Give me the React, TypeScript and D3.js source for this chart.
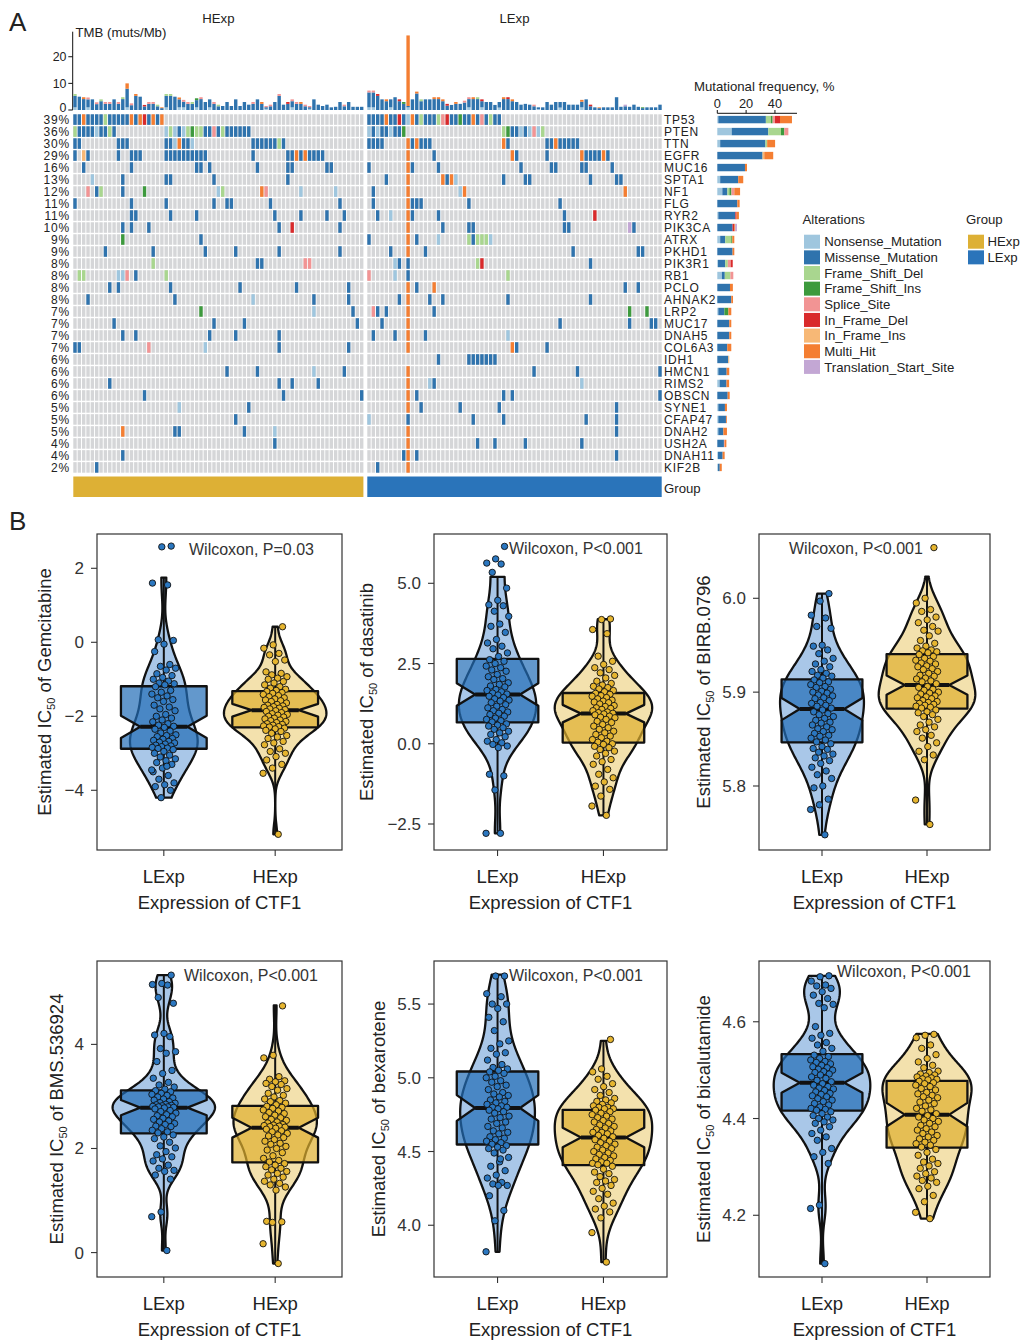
import React from 'react';
import * as d3 from 'd3';

const FONT = "'Liberation Sans', Arial, Helvetica, sans-serif";
const INK = '#222';

// ---------------- oncoplot data ----------------
const genes = ['TP53', 'PTEN', 'TTN', 'EGFR', 'MUC16', 'SPTA1', 'NF1', 'FLG', 'RYR2', 'PIK3CA', 'ATRX', 'PKHD1', 'PIK3R1', 'RB1', 'PCLO',
  'AHNAK2', 'LRP2', 'MUC17', 'DNAH5', 'COL6A3', 'IDH1', 'HMCN1', 'RIMS2', 'OBSCN', 'SYNE1', 'CFAP47', 'DNAH2', 'USH2A', 'DNAH11', 'KIF2B'];
const genePct = [39, 36, 30, 29, 16, 13, 12, 11, 11, 10, 9, 9, 8, 8, 8, 8, 7, 7, 7, 7, 6, 6, 6, 6, 5, 5, 5, 4, 4, 2];

// "start:codes" runs of mutated samples per gene row
// N nonsense, M missense, D fs del, I fs ins, S splice, F inframe del, P inframe ins, H multi hit, T translation start
const hexpRows = [
  '0:MMHMMMMDMMMMMHMHFMHMH',
  '0:DMMMMNMMDM 21:NDNMNDIDDMMSMDMMMMMM',
  '0:MM 10:MMM 21:MMNHMMN 41:MMMMMMDM',
  '0:M 2:PM 10:M 13:MMM 21:MMMMMMMMMM 41:M 49:MMHMHMMMM',
  '2:M 13:M 28:MM 31:M 42:M 49:MM 58:MM',
  '4:N 11:M 21:MM 32:M 49:M',
  '3:S 5:MD 11:M 16:I 33:ND 43:HS 52:N 60:N',
  '0:M 13:M 21:M 32:M 35:MM 45:M 61:M',
  '13:MM 22:M 28:M 46:M 52:M 58:M 62:M',
  '11:M 13:M 17:M 47:M 50:F 61:M',
  '11:I 29:M',
  '7:M 18:M 30:M 37:M 47:M 61:M',
  '18:D 42:MM 53:SS',
  '1:DD 10:NNS 14:M 21:D',
  '8:M 10:M 22:M 38:M 51:M 63:M',
  '3:M 23:M 41:N 55:M 63:M',
  '29:I 55:N 64:M',
  '9:M 32:M 39:M 65:M',
  '11:M 14:M 31:M 37:M 47:M',
  '0:MM 17:S 30:N 47:M 63:M',
  '',
  '35:M 42:M 55:N 62:M',
  '8:M 47:M 50:M 56:M',
  '16:M 48:M 66:M',
  '24:N 40:M',
  '37:M',
  '11:H 23:MM 39:M 46:N',
  '46:M',
  '11:M',
  '5:M',
];
const lexpRows = [
  '0:MMMMHMMFMNHMDMMMDSFMMIMMHMSMDMM',
  '0:NMNMMNMMI 31:DIMMNMNSND',
  '0:MMMM 9:HMHMMM 31:HM 41:MMHMMMMM',
  '9:H 15:M 33:HM 41:M 49:HMMMMHM',
  '0:M 9:HM 16:M 35:M 42:MM 49:MM 56:M',
  '4:M 9:H 17:HMHN 31:M 36:MM 51:M 57:MM',
  '1:M 9:H 21:NH 59:H',
  '1:M 9:HMMM 23:M 44:M',
  '2:M 5:N 9:HM 16:M 45:M 52:F',
  '9:H 17:M 23:MM 45:MM 60:TM',
  '0:M 9:H 11:M 16:N 23:DMDDDN',
  '5:M 9:H 13:M 47:M 62:MM',
  '6:NM 9:M 25:DF 51:M',
  '0:S 6:N 9:M 32:D',
  '9:H 11:M 15:H 59:M 62:M',
  '7:M 9:H 14:M 17:M 32:M 51:M',
  '1:SM 4:M 9:H 15:M 60:I 64:I',
  '3:M 9:H 44:M 60:M 65:MM',
  '1:M 6:M 9:H 13:M 32:N',
  '9:H 33:HM 41:M',
  '16:M 23:MMMMMMM',
  '9:H 38:M 48:M 67:M',
  '9:H 14:NM 49:N',
  '9:H 11:M 31:M 33:M 67:M',
  '9:H 12:M 21:M 30:M 57:M',
  '0:N 9:M 24:M 31:M 50:M 57:M',
  '9:H 57:M',
  '9:H 25:M 29:M 36:M 49:M',
  '8:MH 11:M 57:M',
  '2:M 9:H',
];

// TMB per sample (muts/Mb)
const tmbHExp = [6, 5, 4.8, 4.7, 4, 2.9, 4, 3, 3, 4, 3, 4.8, 10, 2.5, 6, 5, 1.9, 3, 3, 2, 1, 6, 6, 5, 4.7, 3.8, 3, 3, 4.4, 4.8,
  3, 4, 3, 2, 1.5, 3, 1.5, 4, 1.5, 3, 2, 3, 4, 3, 1.5, 2, 3, 6, 2, 3, 4, 3, 3, 2, 1.5, 4, 2, 1.5, 2, 1, 1.2, 3, 2, 3, 1.2, 1.2, 1.2];
const tmbLExp = [7.3, 7.3, 6, 4, 4, 4, 4.8, 4, 3, 28, 4, 6.9, 4, 4, 4, 4.8, 4.8, 4, 2.3, 1.9, 3, 2.3, 3.5, 4.8, 4.8, 4.8, 4, 3, 3, 1.9,
  3, 4.8, 4.8, 4, 3, 2, 2.3, 2, 2, 1, 1, 3, 2, 3, 3, 3, 2, 2, 2, 3.8, 4, 2, 1, 1, 1, 1, 1, 4.8, 1.2, 2, 1.2, 2, 1.2, 1, 1, 1, 1, 2];
const tmbTopHExp = 'D.HS.SDSS.SDHSH.FSSDHDD.HSSDIS..SD.......S.HSS.S.FSSHSS.......S....';
const tmbTopLExp = 'SSF.H..FI..HD..HHHF.H.SSHDF....HFH....S..........H.F.H.....T...I....';
const tmbBaseHExp = 'n..n........n........n..nn..n..n............n.....n...n...........';
const tmbBaseLExp = 'nn...n...n.............n..n...n........n....n....n..................';
const tmbBigCapHExp = [{ col: 12, value: 2 }];
const tmbBigCapLExp = [{ col: 9, value: 26.5 }];

// mutational frequency bars (%)
const freqSegs = [
  'N0.7 M33 D3.5 I1.2 S1.6 F3.5 H8.3', 'N10 M25.4 D8.8 I2.3 S2.8', 'N2 M31.4 D1.2 H5.5', 'M31.4 P1.2 H6.2', 'M19.2 H1.4',
  'N2 M12.5 H3.5', 'N3.5 M3.5 D1.4 I1.4 S2 H4', 'M13.9 H1.6', 'N0.7 M11.8 F0.9 H1.6', 'M10.6 F1.2 H0.6 T1.2',
  'N2 M3.5 D4.2 I0.7 H1.4', 'M10.6 H1.2', 'N0.5 M5 D1.8 S2 F1.4', 'N3.2 M2 D3.9 S2', 'M8.8 H2',
  'M9.7 H1.2', 'N0.7 M4.2 I2.8 H2', 'M8.3 H1.4', 'M8.3 H1.4', 'M6.9 H2.8',
  'M7.6 P0.7', 'N0.7 M5.8 H1.8', 'N1.6 M4.8 H1.8', 'M7.2 H1.4', 'N0.7 M4.6 H1.4',
  'N0.7 M5.3 H0.6', 'N0.7 M3.5 H2.5', 'M4.6 S0.5 H1.2', 'N0.5 M3.2 H1.4', 'N0.5 M1.2 H1.4',
];
const freqTicks = [0, 20, 40];
const tmbTicks = [0, 10, 20];

const altCodes = ['N', 'M', 'D', 'I', 'S', 'F', 'P', 'H', 'T'];
const altNames = ['Nonsense_Mutation', 'Missense_Mutation', 'Frame_Shift_Del', 'Frame_Shift_Ins', 'Splice_Site',
  'In_Frame_Del', 'In_Frame_Ins', 'Multi_Hit', 'Translation_Start_Site'];
const ALT: Record<string, string> = {
  N: '#9fc6de', M: '#2f73ad', D: '#a9d68f', I: '#3d9a3d', S: '#f29494', F: '#d92a2b', P: '#f7b876', H: '#f47e32', T: '#c3a7d4',
};

// ---------------- violin data (estimated IC50) ----------------
const groupNames = ['LExp', 'HExp'];
const drugs = ['Gemcitabine', 'dasatinib', 'BIRB.0796', 'BMS.536924', 'bexarotene', 'bicalutamide'];
const pLabels = ['Wilcoxon, P=0.03', 'Wilcoxon, P<0.001', 'Wilcoxon, P<0.001', 'Wilcoxon, P<0.001', 'Wilcoxon, P<0.001', 'Wilcoxon, P<0.001'];
const yDomains = [[-5.614, 2.927], [-3.31, 6.536], [5.7318, 6.0685], [-0.469, 5.602], [3.649, 5.792], [4.0724, 4.7256]];
const yTicks = [[-4, -2, 0, 2], [-2.5, 0, 2.5, 5], [5.8, 5.9, 6.0], [0, 2, 4], [4.0, 4.5, 5.0, 5.5], [4.2, 4.4, 4.6]];
const tickDecimals = [0, 1, 1, 0, 1, 1];

const lexpIC50 = [
  [2.6, 2.58, 1.6, 1.55, 0.07, 0.05, -0.05, -0.25, -0.6, -0.65, -0.7, -0.75, -0.85, -0.9, -0.95, -1.0, -1.05, -1.1, -1.12, -1.15,
    -1.2, -1.3, -1.35, -1.4, -1.45, -1.5, -1.55, -1.6, -1.7, -1.75, -1.8, -1.85, -1.95, -2.0, -2.05, -2.1, -2.15, -2.2, -2.24, -2.27,
    -2.3, -2.35, -2.4, -2.45, -2.5, -2.52, -2.55, -2.6, -2.62, -2.65, -2.68, -2.7, -2.72, -2.75, -2.78, -2.8, -2.82, -2.84, -2.86, -2.87,
    -2.9, -2.95, -3.0, -3.05, -3.1, -3.15, -3.2, -3.25, -3.3, -3.4, -3.5, -3.6, -3.7, -3.8, -3.85, -3.9, -4.0, -4.2, -3.45, -3.35],
  [6.15, 5.76, 5.63, 5.6, 5.34, 4.85, 4.47, 4.33, 4.3, 4.13, 3.97, 3.73, 3.66, 3.47, 3.25, 3.14, 3.04, 2.96, 2.83, 2.72,
    2.62, 2.57, 2.5, 2.42, 2.37, 2.3, 2.26, 2.16, 2.09, 2.03, 2.0, 1.9, 1.85, 1.8, 1.77, 1.69, 1.66, 1.62, 1.58, 1.55,
    1.52, 1.48, 1.44, 1.4, 1.36, 1.33, 1.28, 1.22, 1.17, 1.12, 1.07, 1.03, 0.99, 0.95, 0.91, 0.86, 0.8, 0.76, 0.72, 0.68,
    0.62, 0.58, 0.55, 0.5, 0.45, 0.39, 0.34, 0.29, 0.22, 0.13, 0.08, 0.03, -0.02, -0.07, -0.12, -0.95, -1.0, -1.44, -2.79, -2.79],
  [6.005, 5.997, 5.982, 5.979, 5.97, 5.968, 5.95, 5.949, 5.945, 5.941, 5.936, 5.933, 5.93, 5.927, 5.924, 5.922, 5.92, 5.918, 5.917, 5.915,
    5.913, 5.911, 5.91, 5.908, 5.906, 5.905, 5.903, 5.901, 5.9, 5.899, 5.897, 5.896, 5.894, 5.893, 5.891, 5.889, 5.888, 5.886, 5.885, 5.883,
    5.881, 5.879, 5.877, 5.876, 5.874, 5.872, 5.87, 5.868, 5.867, 5.865, 5.863, 5.861, 5.86, 5.858, 5.856, 5.854, 5.853, 5.851, 5.849, 5.847,
    5.845, 5.842, 5.84, 5.839, 5.836, 5.834, 5.832, 5.83, 5.827, 5.824, 5.82, 5.816, 5.812, 5.808, 5.8, 5.798, 5.786, 5.78, 5.775, 5.748],
  [5.33, 5.17, 5.15, 5.14, 4.9, 4.79, 4.21, 4.18, 4.15, 3.92, 3.86, 3.83, 3.67, 3.5, 3.44, 3.35, 3.27, 3.22, 3.18, 3.14,
    3.11, 3.09, 3.06, 3.04, 3.02, 2.99, 2.97, 2.95, 2.93, 2.9, 2.88, 2.87, 2.85, 2.84, 2.83, 2.82, 2.81, 2.8, 2.8, 2.79,
    2.78, 2.76, 2.73, 2.71, 2.68, 2.65, 2.63, 2.61, 2.58, 2.56, 2.53, 2.51, 2.48, 2.46, 2.43, 2.42, 2.38, 2.35, 2.32, 2.3,
    2.26, 2.22, 2.19, 2.12, 2.05, 2.01, 1.94, 1.88, 1.84, 1.8, 1.76, 1.68, 1.62, 1.58, 1.56, 1.49, 1.41, 0.78, 0.69, 0.04],
  [5.69, 5.69, 5.57, 5.55, 5.5, 5.5, 5.47, 5.41, 5.38, 5.32, 5.25, 5.23, 5.2, 5.17, 5.16, 5.12, 5.09, 5.07, 5.06, 5.05,
    5.04, 5.03, 5.01, 5.0, 4.98, 4.97, 4.95, 4.94, 4.92, 4.9, 4.89, 4.88, 4.87, 4.85, 4.84, 4.83, 4.82, 4.81, 4.8, 4.8,
    4.79, 4.78, 4.77, 4.76, 4.74, 4.73, 4.72, 4.7, 4.69, 4.67, 4.66, 4.64, 4.63, 4.62, 4.6, 4.59, 4.58, 4.57, 4.56, 4.55,
    4.54, 4.53, 4.52, 4.51, 4.49, 4.46, 4.43, 4.4, 4.37, 4.34, 4.32, 4.29, 4.28, 4.27, 4.27, 4.2, 4.1, 4.03, 3.82, 4.45],
  [4.695, 4.693, 4.684, 4.676, 4.674, 4.669, 4.662, 4.655, 4.648, 4.638, 4.636, 4.629, 4.59, 4.576, 4.572, 4.566, 4.557, 4.552, 4.545, 4.539,
    4.531, 4.528, 4.524, 4.521, 4.518, 4.516, 4.513, 4.51, 4.507, 4.505, 4.502, 4.5, 4.497, 4.495, 4.492, 4.49, 4.486, 4.483, 4.479, 4.476,
    4.472, 4.469, 4.466, 4.463, 4.461, 4.458, 4.455, 4.452, 4.45, 4.447, 4.445, 4.441, 4.438, 4.435, 4.431, 4.428, 4.424, 4.421, 4.419, 4.417,
    4.414, 4.41, 4.406, 4.403, 4.4, 4.397, 4.393, 4.39, 4.383, 4.376, 4.369, 4.362, 4.355, 4.338, 4.33, 4.321, 4.307, 4.221, 4.214, 4.1],
];
const hexpIC50 = [
  [0.42, -0.07, -0.16, -0.3, -0.34, -0.48, -0.52, -0.8, -0.84, -0.88, -0.93, -0.97, -1.0, -1.06, -1.1, -1.15, -1.2, -1.24, -1.27, -1.3,
    -1.33, -1.36, -1.38, -1.41, -1.44, -1.47, -1.5, -1.53, -1.56, -1.58, -1.6, -1.64, -1.68, -1.7, -1.72, -1.74, -1.76, -1.78, -1.8, -1.82,
    -1.85, -1.87, -1.9, -1.93, -1.95, -1.97, -2.0, -2.02, -2.05, -2.07, -2.1, -2.12, -2.14, -2.17, -2.2, -2.22, -2.24, -2.26, -2.28, -2.29,
    -2.32, -2.34, -2.38, -2.41, -2.46, -2.52, -2.56, -2.6, -2.68, -2.72, -2.77, -2.88, -2.95, -3.0, -3.09, -3.18, -3.3, -3.4, -3.54, -5.19],
  [3.89, 3.87, 3.56, 3.43, 2.73, 2.57, 2.47, 2.37, 2.31, 2.21, 2.13, 2.05, 1.95, 1.88, 1.83, 1.79, 1.75, 1.71, 1.66, 1.62,
    1.57, 1.54, 1.5, 1.48, 1.44, 1.4, 1.36, 1.33, 1.3, 1.28, 1.24, 1.19, 1.16, 1.12, 1.1, 1.07, 1.03, 0.99, 0.97, 0.95,
    0.93, 0.9, 0.86, 0.83, 0.81, 0.76, 0.7, 0.66, 0.6, 0.55, 0.5, 0.45, 0.39, 0.34, 0.29, 0.24, 0.19, 0.13, 0.08, 0.05,
    0.0, -0.02, -0.08, -0.12, -0.18, -0.23, -0.3, -0.38, -0.49, -0.56, -0.64, -0.8, -0.95, -1.06, -1.19, -1.32, -1.42, -1.63, -1.94, -2.23],
  [6.054, 6.0, 5.995, 5.988, 5.986, 5.98, 5.977, 5.974, 5.97, 5.966, 5.965, 5.96, 5.955, 5.952, 5.949, 5.947, 5.945, 5.944, 5.943, 5.942,
    5.94, 5.938, 5.936, 5.934, 5.933, 5.931, 5.93, 5.928, 5.927, 5.925, 5.924, 5.922, 5.92, 5.918, 5.917, 5.915, 5.914, 5.912, 5.911, 5.909,
    5.906, 5.905, 5.903, 5.902, 5.9, 5.899, 5.898, 5.896, 5.895, 5.894, 5.893, 5.891, 5.89, 5.889, 5.888, 5.887, 5.886, 5.885, 5.884, 5.883,
    5.881, 5.879, 5.878, 5.876, 5.874, 5.871, 5.868, 5.865, 5.863, 5.86, 5.858, 5.854, 5.851, 5.846, 5.842, 5.837, 5.833, 5.828, 5.785, 5.759],
  [4.74, 3.79, 3.74, 3.38, 3.33, 3.3, 3.28, 3.25, 3.23, 3.19, 3.15, 3.12, 3.06, 3.02, 2.99, 2.95, 2.92, 2.9, 2.87, 2.84,
    2.81, 2.79, 2.77, 2.74, 2.72, 2.69, 2.67, 2.64, 2.61, 2.59, 2.56, 2.54, 2.51, 2.49, 2.46, 2.45, 2.44, 2.43, 2.42, 2.41,
    2.39, 2.37, 2.34, 2.32, 2.29, 2.26, 2.24, 2.21, 2.17, 2.14, 2.1, 2.08, 2.04, 2.0, 1.97, 1.92, 1.86, 1.81, 1.77, 1.74,
    1.71, 1.68, 1.65, 1.62, 1.59, 1.56, 1.52, 1.49, 1.45, 1.41, 1.37, 1.33, 1.3, 1.26, 1.2, 0.6, 0.59, 0.58, 0.17, -0.21],
  [5.26, 5.06, 5.04, 5.01, 4.99, 4.96, 4.94, 4.92, 4.9, 4.88, 4.86, 4.85, 4.84, 4.83, 4.82, 4.81, 4.8, 4.8, 4.79, 4.79,
    4.78, 4.77, 4.76, 4.75, 4.74, 4.73, 4.72, 4.71, 4.7, 4.69, 4.68, 4.67, 4.66, 4.65, 4.64, 4.63, 4.63, 4.62, 4.61, 4.6,
    4.59, 4.58, 4.57, 4.56, 4.55, 4.54, 4.53, 4.52, 4.51, 4.5, 4.49, 4.48, 4.47, 4.46, 4.45, 4.44, 4.43, 4.42, 4.42, 4.41,
    4.4, 4.38, 4.36, 4.35, 4.33, 4.31, 4.3, 4.29, 4.27, 4.25, 4.23, 4.21, 4.18, 4.15, 4.13, 4.11, 4.09, 4.05, 3.95, 3.75],
  [4.574, 4.572, 4.567, 4.552, 4.545, 4.532, 4.524, 4.517, 4.51, 4.505, 4.498, 4.495, 4.492, 4.49, 4.488, 4.486, 4.484, 4.482, 4.481, 4.48,
    4.477, 4.474, 4.472, 4.469, 4.466, 4.462, 4.459, 4.454, 4.451, 4.448, 4.445, 4.443, 4.438, 4.434, 4.431, 4.426, 4.421, 4.418, 4.415, 4.41,
    4.406, 4.403, 4.4, 4.397, 4.394, 4.39, 4.386, 4.383, 4.379, 4.376, 4.372, 4.369, 4.365, 4.362, 4.358, 4.355, 4.351, 4.348, 4.345, 4.341,
    4.336, 4.33, 4.324, 4.316, 4.31, 4.307, 4.302, 4.297, 4.29, 4.286, 4.281, 4.277, 4.272, 4.268, 4.26, 4.255, 4.241, 4.228, 4.206, 4.193],
];
// extent of each violin (trimmed)
const lexpRange = [[-4.2, 1.75], [-2.79, 5.2], [5.748, 6.005], [0.04, 5.33], [3.82, 5.7], [4.1, 4.695]];
const hexpRange = [[-5.19, 0.42], [-2.23, 3.88], [5.759, 6.023], [-0.21, 4.75], [3.75, 5.25], [4.193, 4.575]];

// ---------------- layout ----------------
const panelRects = [
  { x0: 97, x1: 342, y0: 534, y1: 850 }, { x0: 434, x1: 667, y0: 534, y1: 850 }, { x0: 759, x1: 990, y0: 534, y1: 850 },
  { x0: 97, x1: 342, y0: 961, y1: 1277 }, { x0: 434, x1: 667, y0: 961, y1: 1277 }, { x0: 759, x1: 990, y0: 961, y1: 1277 },
];
const pLabelPos = [[92, 20.5], [75, 19.5], [30, 19.5], [87, 20], [75, 20], [78, 16]];
const ONC_FS = 13.2;
const ROW_FS = 12;

const parseRow = (s: string) =>
  s.split(' ').filter(Boolean).flatMap((seg) => {
    const [start, codes] = seg.split(':');
    return codes.split('').map((c, k) => ({ col: +start + k, code: c }));
  });

const parseSegs = (s: string) => {
  let acc = 0;
  return s.split(' ').map((t) => {
    const v = +t.slice(1);
    const seg = { code: t[0], a: acc, b: acc + v };
    acc += v;
    return seg;
  });
};

function tmbStack(total: number, top: string, base: string, big?: number) {
  const b = base === 'n' ? Math.min(1, total * 0.3) : 0;
  const cap = big != null ? big : top !== '.' ? Math.min(0.7, total * 0.3) : 0;
  const m = Math.max(0, total - b - cap);
  const segs = [] as { code: string; a: number; b: number }[];
  if (b) segs.push({ code: 'N', a: 0, b });
  segs.push({ code: 'M', a: b, b: b + m });
  if (cap) segs.push({ code: top === '.' ? 'H' : top, a: b + m, b: total });
  return segs;
}

function Oncoplot() {
  const yRow = d3.scaleBand<string>().domain(genes).range([114.3, 472.7]).paddingInner(0.12);
  const yTmb = d3.scaleLinear().domain([0, 29.4]).range([110, 31.7]);
  const xFreq = d3.scaleLinear().domain([0, 55.3]).range([717.3, 797]);
  const groups = [
    { name: 'HExp', rows: hexpRows, tmb: tmbHExp, top: tmbTopHExp, base: tmbBaseHExp, big: tmbBigCapHExp, x0: 73.3, x1: 363.4, color: '#DDB035' },
    { name: 'LExp', rows: lexpRows, tmb: tmbLExp, top: tmbTopLExp, base: tmbBaseLExp, big: tmbBigCapLExp, x0: 367.3, x1: 661.7, color: '#2A74BA' },
  ];
  const bh = yRow.bandwidth();

  return (
    <g fontFamily={FONT} fill={INK}>
      <text x={9} y={31} fontSize={26}>A</text>
      {/* TMB axis */}
      <line x1={72.7} x2={72.7} y1={yTmb(29.4)} y2={yTmb(0)} stroke="#111" strokeWidth={1} />
      {tmbTicks.map((t) => (
        <g key={t}>
          <line x1={68.3} x2={72.7} y1={yTmb(t)} y2={yTmb(t)} stroke="#111" />
          <text x={66.5} y={yTmb(t) + (t === 0 ? 2 : 4.5)} fontSize={12.4} textAnchor="end">{t}</text>
        </g>
      ))}
      <text x={75.5} y={36.5} fontSize={ONC_FS}>TMB (muts/Mb)</text>

      {groups.map((g) => {
        const n = g.tmb.length;
        const xc = d3.scaleBand<number>().domain(d3.range(n)).range([g.x0, g.x1]).paddingInner(0.22);
        const bw = xc.bandwidth();
        const bigMap = new Map(g.big.map((d) => [d.col, d.value]));
        return (
          <g key={g.name}>
            <text x={(g.x0 + g.x1) / 2} y={22.5} fontSize={ONC_FS} textAnchor="middle">{g.name}</text>
            {g.tmb.map((t, i) =>
              tmbStack(t, g.top[i], g.base[i], bigMap.get(i)).map((s, j) => (
                <rect key={`t${i}-${j}`} x={xc(i)} width={bw} y={yTmb(s.b)} height={yTmb(s.a) - yTmb(s.b)} fill={ALT[s.code]} />
              ))
            )}
            {genes.map((gene) =>
              d3.range(n).map((i) => (
                <rect key={`${gene}-${i}`} x={xc(i)} y={yRow(gene)} width={bw} height={bh} fill="#d5d6d8" />
              ))
            )}
            {g.rows.map((row, r) =>
              parseRow(row).map((c) => (
                <rect key={`m${r}-${c.col}`} x={xc(c.col)} y={yRow(genes[r])} width={bw} height={bh} fill={ALT[c.code]} />
              ))
            )}
            <rect x={g.x0} y={476.5} width={g.x1 - g.x0} height={20.5} fill={g.color} />
          </g>
        );
      })}

      {genes.map((gene, r) => (
        <g key={gene}>
          <text x={70} y={yRow(gene)! + bh / 2 + 4.3} fontSize={ROW_FS} letterSpacing={0.8} textAnchor="end">{genePct[r]}%</text>
          <text x={664} y={yRow(gene)! + bh / 2 + 4.3} fontSize={ROW_FS} letterSpacing={0.7}>{gene}</text>
          {parseSegs(freqSegs[r]).map((s, j) => (
            <rect key={j} x={xFreq(s.a)} width={xFreq(s.b) - xFreq(s.a)} y={yRow(gene)! + bh / 2 - 3.7} height={7.4} fill={ALT[s.code]} />
          ))}
        </g>
      ))}
      <text x={664} y={492.5} fontSize={ONC_FS}>Group</text>

      {/* frequency axis */}
      <text x={694} y={91} fontSize={ONC_FS}>Mutational frequency, %</text>
      <line x1={xFreq(0)} x2={797} y1={113.3} y2={113.3} stroke="#111" />
      {freqTicks.map((t) => (
        <g key={t}>
          <line x1={xFreq(t)} x2={xFreq(t)} y1={110} y2={113.3} stroke="#111" />
          <text x={xFreq(t)} y={107.8} fontSize={12.8} textAnchor="middle">{t}</text>
        </g>
      ))}

      {/* legends */}
      <text x={802.5} y={224} fontSize={ONC_FS}>Alterations</text>
      {altCodes.map((c, k) => (
        <g key={c}>
          <rect x={804} y={234.7 + k * 15.65} width={16} height={14} fill={ALT[c]} />
          <text x={824.3} y={246.4 + k * 15.65} fontSize={ONC_FS}>{altNames[k]}</text>
        </g>
      ))}
      <text x={966} y={224} fontSize={ONC_FS}>Group</text>
      {groups.map((g, k) => (
        <g key={g.name}>
          <rect x={968} y={234.7 + k * 15.65} width={16} height={14} fill={g.color} />
          <text x={987.5} y={246.4 + k * 15.65} fontSize={ONC_FS}>{g.name}</text>
        </g>
      ))}
    </g>
  );
}

const TICK_FS = 17;
const LAB_FS = 18.5;
const charW = (s: string, fs: number) =>
  s.split('').reduce((w, ch) => w + (ch === '.' ? 0.278 : ch === '−' ? 0.7 : 0.556), 0) * fs;

function ViolinPanel({ k }: { k: number }) {
  const r = panelRects[k];
  const x = d3.scalePoint<string>().domain(groupNames).range([r.x0, r.x1]).padding(0.6);
  const unit = x.step();
  const y = d3.scaleLinear().domain(yDomains[k]).range([r.y1, r.y0]);
  const sets = [
    { name: 'LExp', vals: lexpIC50[k], range: lexpRange[k], fill: '#a9c7e8', box: '#216cb6', pt: '#2b77c0' },
    { name: 'HExp', vals: hexpIC50[k], range: hexpRange[k], fill: '#f3e1ad', box: '#deaf2e', pt: '#e6b52f' },
  ];
  const stats = sets.map((s) => {
    const sorted = [...s.vals].sort(d3.ascending);
    const n = sorted.length;
    const q1 = d3.quantile(sorted, 0.25)!;
    const med = d3.quantile(sorted, 0.5)!;
    const q3 = d3.quantile(sorted, 0.75)!;
    const sd = d3.deviation(sorted)!;
    const bw = 0.9 * Math.min(sd, (q3 - q1) / 1.34) * Math.pow(n, -0.2);
    const [lo, hi] = s.range;
    const dens = d3.range(0, 201).map((i) => {
      const v = lo + ((hi - lo) * i) / 200;
      const d = d3.mean(sorted, (u) => Math.exp(-0.5 * ((v - u) / bw) ** 2))! / (bw * Math.sqrt(2 * Math.PI));
      return { v, d };
    });
    const notch = (1.58 * (q3 - q1)) / Math.sqrt(n);
    return { q1, med, q3, dens, notch, lo, hi };
  });
  const maxD = d3.max(stats.flatMap((s) => s.dens), (d) => d.d)!;
  const fmt = d3.format(`.${tickDecimals[k]}f`);
  const tickLabels = yTicks[k].map((t) => fmt(t).replace('-', '−'));
  const maxLabW = d3.max(tickLabels, (s) => charW(s, TICK_FS))!;
  const titleX = r.x0 - 13 - maxLabW - 12;
  const midY = (r.y0 + r.y1) / 2;

  return (
    <g fontFamily={FONT}>
      {sets.map((s, gi) => {
        const st = stats[gi];
        const cx = x(s.name)!;
        const area = d3.area<{ v: number; d: number }>()
          .y((p) => y(p.v))
          .x0((p) => cx - (p.d / maxD) * 0.46 * unit)
          .x1((p) => cx + (p.d / maxD) * 0.46 * unit);
        const hb = 0.385 * unit;
        const inset = hb * 0.45;
        const xl = cx - hb, xr = cx + hb;
        const yq1 = y(st.q1), yq3 = y(st.q3), ym = y(st.med);
        const yNh = y(st.med + st.notch), yNl = y(st.med - st.notch);
        const boxPath = `M${xl},${yq3}L${xr},${yq3}L${xr},${yNh}L${xr - inset},${ym}L${xr},${yNl}L${xr},${yq1}L${xl},${yq1}L${xl},${yNl}L${xl + inset},${ym}L${xl},${yNh}Z`;
        return (
          <g key={s.name}>
            <path d={area(st.dens)!} fill={s.fill} stroke="#111" strokeWidth={2.3} strokeLinejoin="round" />
            <line x1={cx} x2={cx} y1={y(st.hi)} y2={yq3} stroke="#111" strokeWidth={2} />
            <line x1={cx} x2={cx} y1={yq1} y2={y(st.lo)} stroke="#111" strokeWidth={2} />
            <path d={boxPath} fill={s.box} fillOpacity={0.7} stroke="#111" strokeWidth={2.3} strokeLinejoin="round" />
            <line x1={xl + inset} x2={xr - inset} y1={ym} y2={ym} stroke="#111" strokeWidth={4} />
            {s.vals.map((v, i) => {
              const jit = ((((i * 0.6180339887) + 0.8) % 1) - 0.5) * 2 * 0.11 * unit;
              return <circle key={i} cx={cx + jit} cy={y(v)} r={3.2} fill={s.pt} stroke="#111" strokeWidth={0.9} />;
            })}
          </g>
        );
      })}
      <rect x={r.x0} y={r.y0} width={r.x1 - r.x0} height={r.y1 - r.y0} fill="none" stroke="#333" strokeWidth={1.2} />
      {yTicks[k].map((t, i) => (
        <g key={t}>
          <line x1={r.x0 - 6} x2={r.x0} y1={y(t)} y2={y(t)} stroke="#333" strokeWidth={1.1} />
          <text x={r.x0 - 13} y={y(t) + 6} fontSize={TICK_FS} textAnchor="end" fill="#333">{tickLabels[i]}</text>
        </g>
      ))}
      {groupNames.map((g) => (
        <g key={g}>
          <line x1={x(g)} x2={x(g)} y1={r.y1} y2={r.y1 + 6} stroke="#333" strokeWidth={1.1} />
          <text x={x(g)} y={r.y1 + 32.5} fontSize={LAB_FS} textAnchor="middle" fill={INK}>{g}</text>
        </g>
      ))}
      <text x={(r.x0 + r.x1) / 2} y={r.y1 + 58.5} fontSize={LAB_FS} textAnchor="middle" fill={INK}>Expression of CTF1</text>
      <text transform={`translate(${titleX},${midY}) rotate(-90)`} fontSize={LAB_FS} textAnchor="middle" fill={INK}>
        <tspan>Estimated IC</tspan>
        <tspan fontSize={11} dy={4}>50</tspan>
        <tspan dy={-4}> of {drugs[k]}</tspan>
      </text>
      <text x={r.x0 + pLabelPos[k][0]} y={r.y0 + pLabelPos[k][1]} fontSize={16} fill="#333">{pLabels[k]}</text>
    </g>
  );
}

export default function App() {
  return (
    <svg width={1021} height={1341} style={{ position: 'absolute', left: 0, top: 0, display: 'block' }}>
      <rect width={1021} height={1341} fill="#fff" />
      <Oncoplot />
      <text x={9} y={530} fontSize={26} fontFamily={FONT} fill={INK}>B</text>
      {drugs.map((_, k) => <ViolinPanel key={k} k={k} />)}
    </svg>
  );
}
